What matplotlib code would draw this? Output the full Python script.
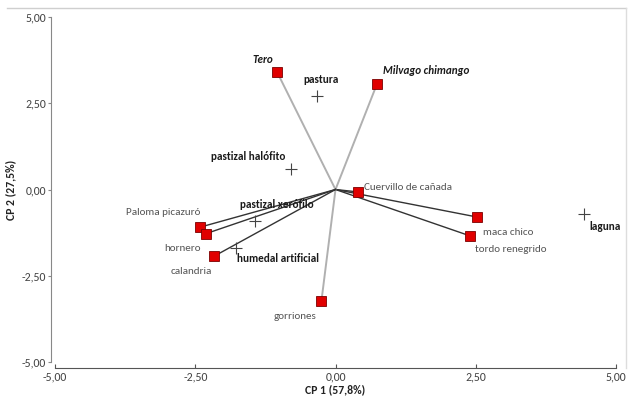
import numpy as np
import matplotlib
matplotlib.use("Agg")
from matplotlib import pyplot as plt
from matplotlib.lines import Line2D

plt.rcParams['font.family'] = ['Carlito', 'DejaVu Sans']

# species (red squares, joined to the origin)
species = ["Tero", "Milvago chimango", "Cuervillo de cañada", "maca chico", "tordo renegrido",
           "gorriones", "Paloma picazuró", "hornero", "calandria"]
sp_x = [-1.04, 0.74, 0.40, 2.53, 2.39, -0.25, -2.41, -2.31, -2.16]
sp_y = [3.40, 3.06, -0.07, -0.80, -1.34, -3.22, -1.09, -1.28, -1.93]

# sites (crosses)
sites = ["pastura", "pastizal halófito", "pastizal xerófilo", "humedal artificial", "laguna"]
site_x = [-0.33, -0.80, -1.44, -1.77, 4.43]
site_y = [2.70, 0.60, -0.92, -1.71, -0.70]

ticks = [-5, -2.5, 0, 2.5, 5]
tick_labels = ["-5,00", "-2,50", "0,00", "2,50", "5,00"]

# label placement (pixel offsets, alignment, style)
sp_style = {
    "Tero": ((-14, 13), "center", "bold", "italic"),
    "Milvago chimango": ((6, 13), "left", "bold", "italic"),
    "Cuervillo de cañada": ((6, 4), "left", "normal", "normal"),
    "maca chico": ((6, -15), "left", "normal", "normal"),
    "tordo renegrido": ((5, -14), "left", "normal", "normal"),
    "gorriones": ((-5, -16), "right", "normal", "normal"),
    "Paloma picazuró": ((0, 15), "right", "normal", "normal"),
    "hornero": ((-5, -15), "right", "normal", "normal"),
    "calandria": ((-23, -15), "center", "normal", "normal"),
}
site_off = {
    "pastura": ((4, 17), "center"),
    "pastizal halófito": ((-5, 12), "right"),
    "pastizal xerófilo": ((22, 17), "center"),
    "humedal artificial": ((1, -10), "left"),
    "laguna": ((5, -13), "left"),
}
light_lines = ["Tero", "Milvago chimango", "gorriones"]

fig = plt.figure(figsize=(6.31, 3.97), dpi=100)
ax = fig.add_axes([55/631, 35/397, 561/631, 345/397])

# outer frame (top and right)
fig.add_artist(Line2D([7/631, 626/631], [1 - 8/397, 1 - 8/397], transform=fig.transFigure,
                      color="#cfcfcf", lw=1))
fig.add_artist(Line2D([626/631, 626/631], [1 - 8/397, 1 - 368/397], transform=fig.transFigure,
                      color="#dddddd", lw=1))

for name, x, y in zip(species, sp_x, sp_y):
    if name in light_lines:
        ax.plot([0, x], [0, y], color="#b0b0b0", lw=1.4, zorder=1)
    else:
        ax.plot([0, x], [0, y], color="#333333", lw=1.0, zorder=1)

ax.plot(sp_x, sp_y, 's', ms=7.5, color="#e00000", mec="#7a0000", mew=0.6, ls='none', zorder=3)
ax.plot(site_x, site_y, '+', ms=9, color="#444444", mew=0.8, ls='none', zorder=3)

for name, x, y in zip(species, sp_x, sp_y):
    off, ha, wt, st = sp_style[name]
    col = "#1a1a1a" if wt == "bold" else "#555555"
    ax.annotate(name, (x, y), xytext=off, textcoords="offset pixels", ha=ha, va="center",
                fontsize=8, fontweight=wt, fontstyle=st, color=col)

for name, x, y in zip(sites, site_x, site_y):
    off, ha = site_off[name]
    ax.annotate(name, (x, y), xytext=off, textcoords="offset pixels", ha=ha, va="center",
                fontsize=8, fontweight="bold", color="#1a1a1a")

ax.set_xlim(-5, 5)
ax.set_ylim(-5, 5)
ax.set_xticks(ticks)
ax.set_xticklabels(tick_labels)
ax.set_yticks(ticks)
ax.set_yticklabels(tick_labels)

for s in ["top", "right"]:
    ax.spines[s].set_visible(False)
ax.spines["left"].set_position(("outward", 3))
ax.spines["bottom"].set_position(("outward", 4))
ax.spines["left"].set_color("#888888")
ax.spines["bottom"].set_color("#555555")
ax.tick_params(axis="y", direction="out", length=2.5, color="#888888", labelsize=8.5,
               labelcolor="#444444", pad=1)
ax.tick_params(axis="x", direction="in", length=3, color="#555555", labelsize=8.5,
               labelcolor="#444444", pad=3)

ax.set_xlabel("CP 1 (57,8%)", fontsize=8.5, fontweight="bold", color="#222222", labelpad=1)
ax.set_ylabel("CP 2 (27,5%)", fontsize=8.5, fontweight="bold", color="#222222", labelpad=4)

fig.savefig("out.png", dpi=100)
